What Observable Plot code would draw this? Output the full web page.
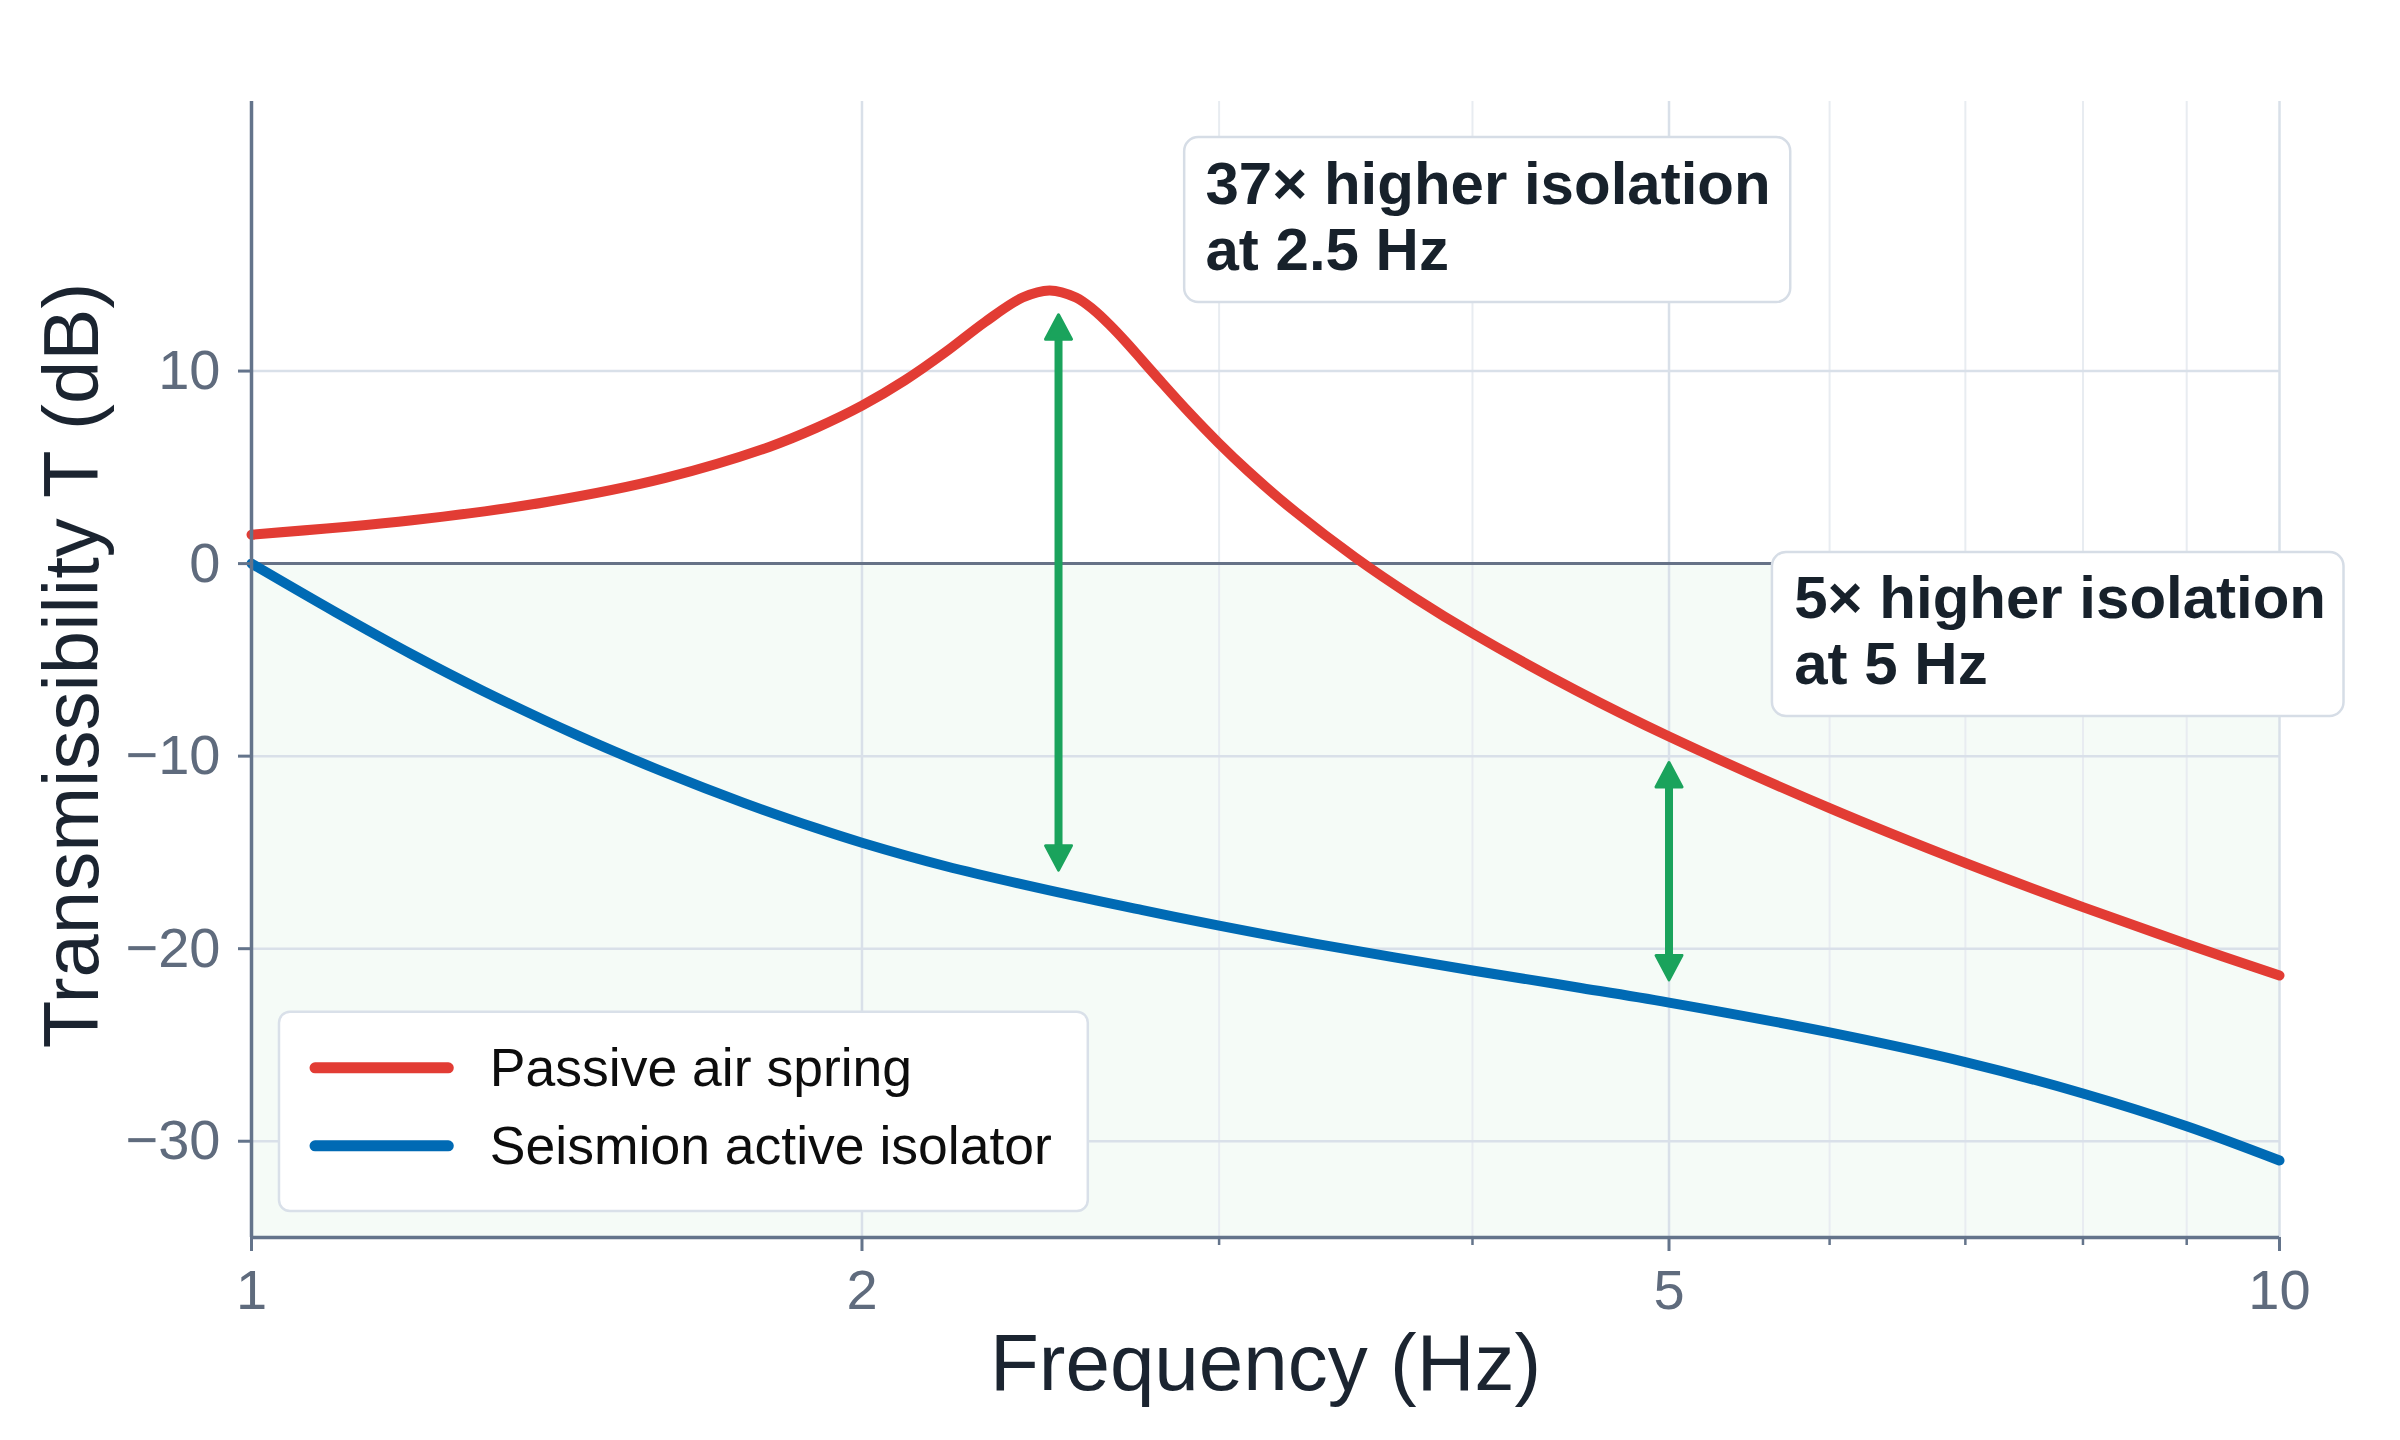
<!DOCTYPE html>
<html>
<head>
<meta charset="utf-8">
<script src="https://cdn.jsdelivr.net/npm/d3@7"></script>
<script src="https://cdn.jsdelivr.net/npm/@observablehq/plot@0.6"></script>
<style>
  html, body { margin: 0; padding: 0; background: #ffffff; }
  #chart { width: 2400px; height: 1440px; }
</style>
</head>
<body>
<div id="chart"></div>
<script>
// ---------- data ----------
const seriesNames = ["Passive air spring", "Seismion active isolator"];

const passiveFreq = [1.0, 1.2, 1.4, 1.6, 1.8, 1.9, 2.0, 2.1, 2.2, 2.3, 2.4, 2.475, 2.55, 2.6, 2.65, 2.7, 2.75, 2.8, 2.9, 3.0, 3.1, 3.25, 3.5, 3.75, 4.0, 4.5, 5.0, 6.0, 7.0, 8.0, 9.0, 10.0];
const passiveDb   = [1.50, 2.25, 3.21, 4.45, 6.06, 7.06, 8.20, 9.52, 11.00, 12.55, 13.82, 14.19, 13.82, 13.20, 12.39, 11.49, 10.54, 9.61, 7.84, 6.24, 4.81, 2.93, 0.33, -1.81, -3.62, -6.59, -8.98, -12.70, -15.55, -17.84, -19.76, -21.39];

const activeFreq = [1.0, 1.1, 1.2, 1.3, 1.45, 1.6, 1.75, 1.9, 2.0, 2.2, 2.5, 2.75, 3.0, 3.35, 4.0, 4.5, 5.0, 6.0, 7.0, 8.0, 9.0, 10.0];
const activeDb   = [0.0, -2.52, -4.72, -6.6, -8.95, -10.86, -12.44, -13.75, -14.5, -15.72, -17.08, -18.0, -18.8, -19.75, -21.13, -22.0, -22.8, -24.35, -25.89, -27.52, -29.22, -31.0];

const yTicks = [10, 0, -10, -20, -30];
const xMajorTicks = [1, 2, 5, 10];
const xMinorTicks = [3, 4, 6, 7, 8, 9];

// comparison arrows (frequency, top tip dB, bottom tip dB)
const arrowFreq     = [2.5, 5];
const arrowTopDb    = [13.0, -10.25];
const arrowBottomDb = [-16.0, -21.7];

const annotationText = ["37× higher isolation\nat 2.5 Hz", "5× higher isolation\nat 5 Hz"];

// ---------- layout (data-space anchors for annotation boxes & legend) ----------
const annotationAnchorX = [2.954, 5.764];
const annotationAnchorY = [15.27, -6.24];
const annotationBoxX1 = [2.885, 5.623];
const annotationBoxX2 = [5.741, 10.76];
const annotationBoxY1 = [13.56, -7.94];
const annotationBoxY2 = [22.13, 0.58];

const legendBox = {x1: 1.0323, x2: 2.586, y1: -33.65, y2: -23.30};
const legendLineX1 = 1.0754, legendLineX2 = 1.2511;
const legendLineY = [-26.19, -30.24];
const legendTextX = 1.3108;
const legendTextY = [-27.15, -31.20];

// ---------- styles ----------
const RED = "#e23c34";
const BLUE = "#006ab4";
const GREEN = "#1aa35c";
const AXIS = "#64748b";
const TICKTEXT = "#5f6b7d";
const DARK = "#1b2430";
const FONT = "'Liberation Sans', Arial, Helvetica, sans-serif";

// ---------- tables ----------
const passive = passiveFreq.map((f, i) => ({f, db: passiveDb[i]}));
const active = activeFreq.map((f, i) => ({f, db: activeDb[i]}));
const arrows = arrowFreq.map((f, i) => ({f, top: arrowTopDb[i], bottom: arrowBottomDb[i]}));
const annotations = annotationText.map((t, i) => ({
  text: t, x: annotationAnchorX[i], y: annotationAnchorY[i],
  x1: annotationBoxX1[i], x2: annotationBoxX2[i], y1: annotationBoxY1[i], y2: annotationBoxY2[i]
}));
const legendItems = seriesNames.map((name, i) => ({
  name, color: [RED, BLUE][i], ly: legendLineY[i], ty: legendTextY[i]
}));

const headUp = {draw(ctx) { ctx.moveTo(0, 1.5); ctx.lineTo(13, 26); ctx.lineTo(-13, 26); ctx.closePath(); }};
const headDown = {draw(ctx) { ctx.moveTo(0, -1.5); ctx.lineTo(13, -26); ctx.lineTo(-13, -26); ctx.closePath(); }};

const fmtY = d => (d < 0 ? "\u2212" : "") + Math.abs(d);

const plot = Plot.plot({
  width: 2400,
  height: 1440,
  marginLeft: 251,
  marginRight: 121,
  marginTop: 101,
  marginBottom: 203,
  style: {fontFamily: FONT, background: "#ffffff", overflow: "visible"},
  x: {type: "log", domain: [1, 10]},
  y: {domain: [-35, 24]},
  marks: [
    // isolation region
    Plot.rect([0], {x1: 1, x2: 10, y1: -35, y2: 0, fill: "#16a34a", fillOpacity: 0.045}),
    // grid
    Plot.gridX(xMinorTicks, {stroke: "#e8ecf1", strokeOpacity: 1, strokeWidth: 2}),
    Plot.gridX(xMajorTicks, {stroke: "#d9e0e9", strokeOpacity: 1, strokeWidth: 2.5}),
    Plot.gridY(yTicks, {stroke: "#d9e0e9", strokeOpacity: 1, strokeWidth: 2.5}),
    Plot.ruleY([0], {stroke: "#667287", strokeWidth: 3}),
    // curves
    Plot.line(passive, {x: "f", y: "db", stroke: RED, strokeWidth: 10, curve: "catmull-rom"}),
    Plot.line(active, {x: "f", y: "db", stroke: BLUE, strokeWidth: 10, curve: "catmull-rom"}),
    // arrows
    Plot.ruleX(arrows, {x: "f", y1: "top", y2: "bottom", stroke: GREEN, strokeWidth: 8, insetTop: 22, insetBottom: 22}),
    Plot.dot(arrows, {x: "f", y: "top", r: 1, symbol: headUp, fill: GREEN, stroke: GREEN, strokeWidth: 3, strokeLinejoin: "round"}),
    Plot.dot(arrows, {x: "f", y: "bottom", r: 1, symbol: headDown, fill: GREEN, stroke: GREEN, strokeWidth: 3, strokeLinejoin: "round"}),
    // annotations
    Plot.rect(annotations, {x1: "x1", x2: "x2", y1: "y1", y2: "y2", fill: "#ffffff", stroke: "#d6dde6", strokeWidth: 2.5, rx: 14}),
    Plot.text(annotations, {x: "x", y: "y", text: "text", textAnchor: "start", lineAnchor: "bottom", lineHeight: 1.1,
      fontSize: 60, fontWeight: 700, fill: "#17212b", fontFamily: FONT}),
    // legend
    Plot.rect([legendBox], {x1: "x1", x2: "x2", y1: "y1", y2: "y2", fill: "#ffffff", stroke: "#d9e0e9", strokeWidth: 2.5, rx: 11}),
    Plot.ruleY(legendItems, {y: "ly", x1: legendLineX1, x2: legendLineX2, stroke: "color", strokeWidth: 11, strokeLinecap: "round"}),
    Plot.text(legendItems, {x: legendTextX, y: "ty", text: "name", textAnchor: "start", lineAnchor: "bottom",
      fontSize: 53.5, fill: "#0d0d0d", fontFamily: FONT}),
    // axis frame
    Plot.ruleX([1], {stroke: AXIS, strokeWidth: 3.5}),
    Plot.ruleY([-35], {stroke: AXIS, strokeWidth: 3.5}),
    // axes
    Plot.axisY(yTicks, {tickSize: 13, tickPadding: 18, fontSize: 56, stroke: AXIS, fill: TICKTEXT, strokeWidth: 3, tickFormat: fmtY, label: null}),
    Plot.axisX(xMajorTicks, {tickSize: 14, tickPadding: 18, fontSize: 56, stroke: AXIS, fill: TICKTEXT, strokeWidth: 3, tickFormat: d => String(d), label: null}),
    Plot.axisX(xMinorTicks, {tickSize: 8, tickPadding: 0, stroke: AXIS, strokeWidth: 2.5, tickFormat: () => "", label: null}),
    // axis titles
    Plot.text(["Frequency (Hz)"], {text: d => d, frameAnchor: "bottom", dy: 152, lineAnchor: "bottom", textAnchor: "middle",
      fontSize: 80, fill: DARK, fontFamily: FONT}),
    Plot.text(["Transmissibility T (dB)"], {text: d => d, frameAnchor: "left", dx: -154, dy: -4, rotate: -90, lineAnchor: "bottom", textAnchor: "middle",
      fontSize: 78, fill: DARK, fontFamily: FONT})
  ]
});

document.getElementById("chart").append(plot);
</script>
</body>
</html>
